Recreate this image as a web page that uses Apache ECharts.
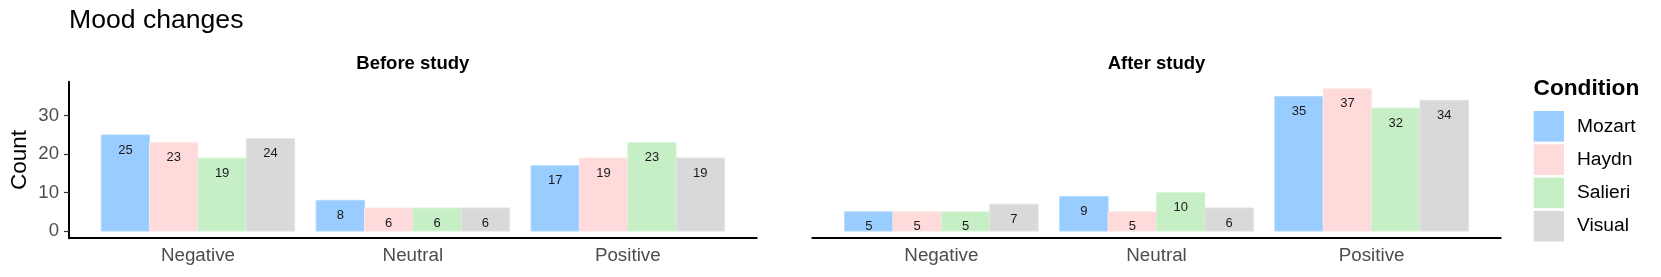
<!DOCTYPE html>
<html>
<head>
<meta charset="utf-8">
<script src="https://cdn.jsdelivr.net/npm/echarts@6/dist/echarts.min.js"></script>
<style>
html,body{margin:0;padding:0;background:#fff;}
#chart{width:1661px;height:277px;}
</style>
</head>
<body>
<div id="chart"></div>
<script>
// ---- Data ----
const categories = ['Negative', 'Neutral', 'Positive'];
const conditions = ['Mozart', 'Haydn', 'Salieri', 'Visual'];
const panels = ['Before study', 'After study'];
const beforeMozart  = [25, 8, 17];
const beforeHaydn   = [23, 6, 19];
const beforeSalieri = [19, 6, 23];
const beforeVisual  = [24, 6, 19];
const afterMozart   = [5, 9, 35];
const afterHaydn    = [5, 5, 37];
const afterSalieri  = [5, 10, 32];
const afterVisual   = [7, 6, 34];
const yTicks = [0, 10, 20, 30];

const colors = ['#99CCFF', '#FFDADA', '#C6EFC6', '#D9D9D9'];
const borders = ['#B3D9FF', '#FFE6E6', '#D6F4D6', '#E3E3E3'];
const FONT = "'Liberation Sans', Arial, Helvetica, sans-serif";

const panelData = [
  [beforeMozart, beforeHaydn, beforeSalieri, beforeVisual],
  [afterMozart, afterHaydn, afterSalieri, afterVisual]
];

const dodge = 0.9;
const bw = dodge / conditions.length;

function makeRender(k) {
  return function (params, api) {
    const c = api.value(0);
    const v = api.value(1);
    const xc = c + (k - (conditions.length - 1) / 2) * bw;
    const p0 = api.coord([xc - bw / 2, v]);
    const p1 = api.coord([xc + bw / 2, 0]);
    return {
      type: 'group',
      children: [
        {
          type: 'rect',
          shape: { x: p0[0], y: p0[1], width: p1[0] - p0[0], height: p1[1] - p0[1] },
          style: { fill: colors[k], stroke: borders[k], lineWidth: 1 }
        },
        {
          type: 'text',
          x: (p0[0] + p1[0]) / 2,
          y: p0[1] + 15,
          style: {
            text: String(v), fill: '#1a1a1a',
            font: '13px ' + FONT, align: 'center', verticalAlign: 'middle'
          }
        }
      ]
    };
  };
}

const grids = [
  { left: 69, top: 81.7, width: 687.7, height: 156.5 },
  { left: 812.3, top: 81.7, width: 688.4, height: 156.5 }
];

const xAxes = grids.map((g, i) => ({
  type: 'value', gridIndex: i, min: 0.4, max: 3.6,
  axisLine: { show: true, onZero: false, lineStyle: { color: '#000', width: 2 } },
  axisTick: { show: false },
  splitLine: { show: false },
  axisLabel: {
    customValues: [1, 2, 3],
    formatter: v => categories[Math.round(v) - 1] || '',
    color: '#4D4D4D', fontSize: 18.8, fontFamily: FONT, margin: 8
  }
}));

const yAxes = grids.map((g, i) => ({
  type: 'value', gridIndex: i, min: -1.85, max: 38.85,
  show: i === 0,
  axisLine: { show: i === 0, onZero: false, lineStyle: { color: '#000', width: 2 } },
  axisTick: { show: i === 0, customValues: yTicks, length: 5, lineStyle: { color: '#333', width: 1.2 } },
  splitLine: { show: false },
  axisLabel: {
    show: i === 0, customValues: yTicks,
    color: '#4D4D4D', fontSize: 18.6, fontFamily: FONT, margin: 10
  }
}));

const series = [];
panelData.forEach((pd, pi) => {
  conditions.forEach((name, k) => {
    series.push({
      type: 'custom', name: name,
      xAxisIndex: pi, yAxisIndex: pi,
      itemStyle: { color: colors[k] },
      renderItem: makeRender(k),
      data: pd[k].map((v, ci) => [ci + 1, v])
    });
  });
});

const graphics = [
  { type: 'text', x: 69, y: 20.9,
    style: { text: 'Mood changes', font: '26.6px ' + FONT, fill: '#000', align: 'left', verticalAlign: 'middle' } },
  { type: 'text', x: 69 + 687.7 / 2, y: 63.7,
    style: { text: panels[0], font: 'bold 18.5px ' + FONT, fill: '#000', align: 'center', verticalAlign: 'middle' } },
  { type: 'text', x: 812.3 + 688.4 / 2, y: 63.7,
    style: { text: panels[1], font: 'bold 18.5px ' + FONT, fill: '#000', align: 'center', verticalAlign: 'middle' } },
  { type: 'text', x: 19.5, y: 160, rotation: Math.PI / 2,
    style: { text: 'Count', font: '22.5px ' + FONT, fill: '#000', align: 'center', verticalAlign: 'middle' } },
  { type: 'text', x: 1533.5, y: 88.3,
    style: { text: 'Condition', font: 'bold 22.7px ' + FONT, fill: '#000', align: 'left', verticalAlign: 'middle' } }
];

const chart = echarts.init(document.getElementById('chart'), null, { renderer: 'canvas' });
chart.setOption({
  animation: false,
  backgroundColor: '#fff',
  grid: grids,
  xAxis: xAxes,
  yAxis: yAxes,
  legend: {
    data: conditions, orient: 'vertical', left: 1533.7, top: 111, padding: 0,
    icon: 'rect', itemWidth: 30.3, itemHeight: 30.6, itemGap: 2.7,
    selectedMode: false,
    textStyle: { fontSize: 19.2, fontFamily: FONT, color: '#000', padding: [0, 0, 0, 8] }
  },
  graphic: graphics,
  series: series
});
</script>
</body>
</html>
